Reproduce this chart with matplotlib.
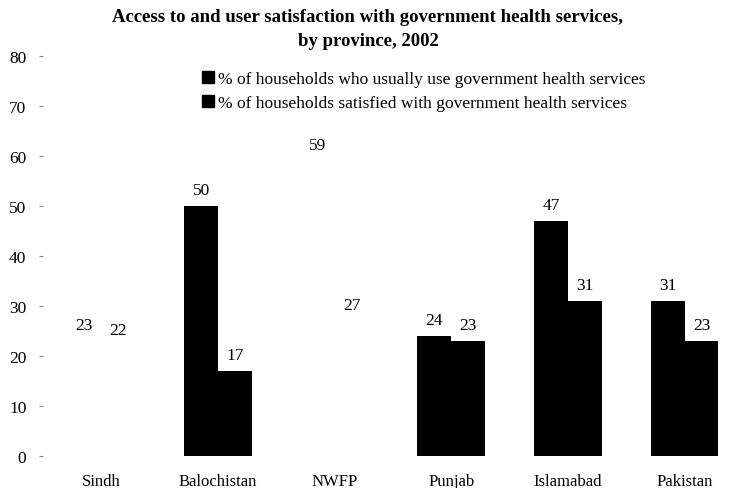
import matplotlib
matplotlib.use("Agg")
import matplotlib.pyplot as plt
import numpy as np

categories = ["Sindh", "Balochistan", "NWFP", "Punjab", "Islamabad", "Pakistan"]
use_gov = [23, 50, 59, 24, 47, 31]
satisfied = [22, 17, 27, 23, 31, 23]
series_names = ["% of households who usually use government health services",
                "% of households satisfied with government health services"]
# bars lost in the scanned reference (appear blank)
visible = [False, True, False, True, True, True]
yticks = [0, 10, 20, 30, 40, 50, 60, 70, 80]

plt.rcParams['font.family'] = ['Liberation Serif', 'DejaVu Serif']

fig = plt.figure(figsize=(7.36, 4.89), dpi=100)
ax = fig.add_axes([43/736, 1 - 457/489, 700/736, 400/489])

x = np.arange(len(categories))
w = 0.29
cols = ['black' if v else 'white' for v in visible]
ax.bar(x - w/2, use_gov, w, color=cols, label=series_names[0])
ax.bar(x + w/2, satisfied, w, color=cols, label=series_names[1])

for xi, v in zip(x - w/2, use_gov):
    ax.text(xi, v + 3.1, str(v), ha='center', va='center', fontsize=12.5)
for xi, v in zip(x + w/2, satisfied):
    ax.text(xi, v + 3.1, str(v), ha='center', va='center', fontsize=12.5)

ax.set_xlim(-0.5, len(categories) - 0.5)
ax.set_ylim(0, 80)
ax.set_yticks(yticks)
ax.set_yticklabels([str(t) for t in yticks], fontsize=12.5)
ax.set_xticks(x)
ax.set_xticklabels(categories, fontsize=12)
ax.tick_params(axis='x', length=0, pad=12)
ax.tick_params(axis='y', length=3, width=0.8, color='#888888', pad=9, direction='out')
for s in ax.spines.values():
    s.set_visible(False)
ax.axhline(0, color='#999999', lw=0.6, ls=(0, (4, 8)), zorder=0)

fig.text(0.5, 1 - 18/489, "Access to and user satisfaction with government health services,",
         ha='center', va='center', fontsize=13.5, fontweight='bold')
fig.text(0.5, 1 - 42/489, "by province, 2002",
         ha='center', va='center', fontsize=13.5, fontweight='bold')

handles = [plt.Rectangle((0, 0), 1, 1, color='black'), plt.Rectangle((0, 0), 1, 1, color='black')]
fig.legend(handles, series_names, loc='upper left', bbox_to_anchor=(202/736, 1 - 72/489),
           frameon=False, fontsize=12.5, handlelength=0.7, handleheight=0.7,
           handletextpad=0.2, labelspacing=0.45, borderaxespad=0, borderpad=0)

fig.savefig("out.png", dpi=100)
